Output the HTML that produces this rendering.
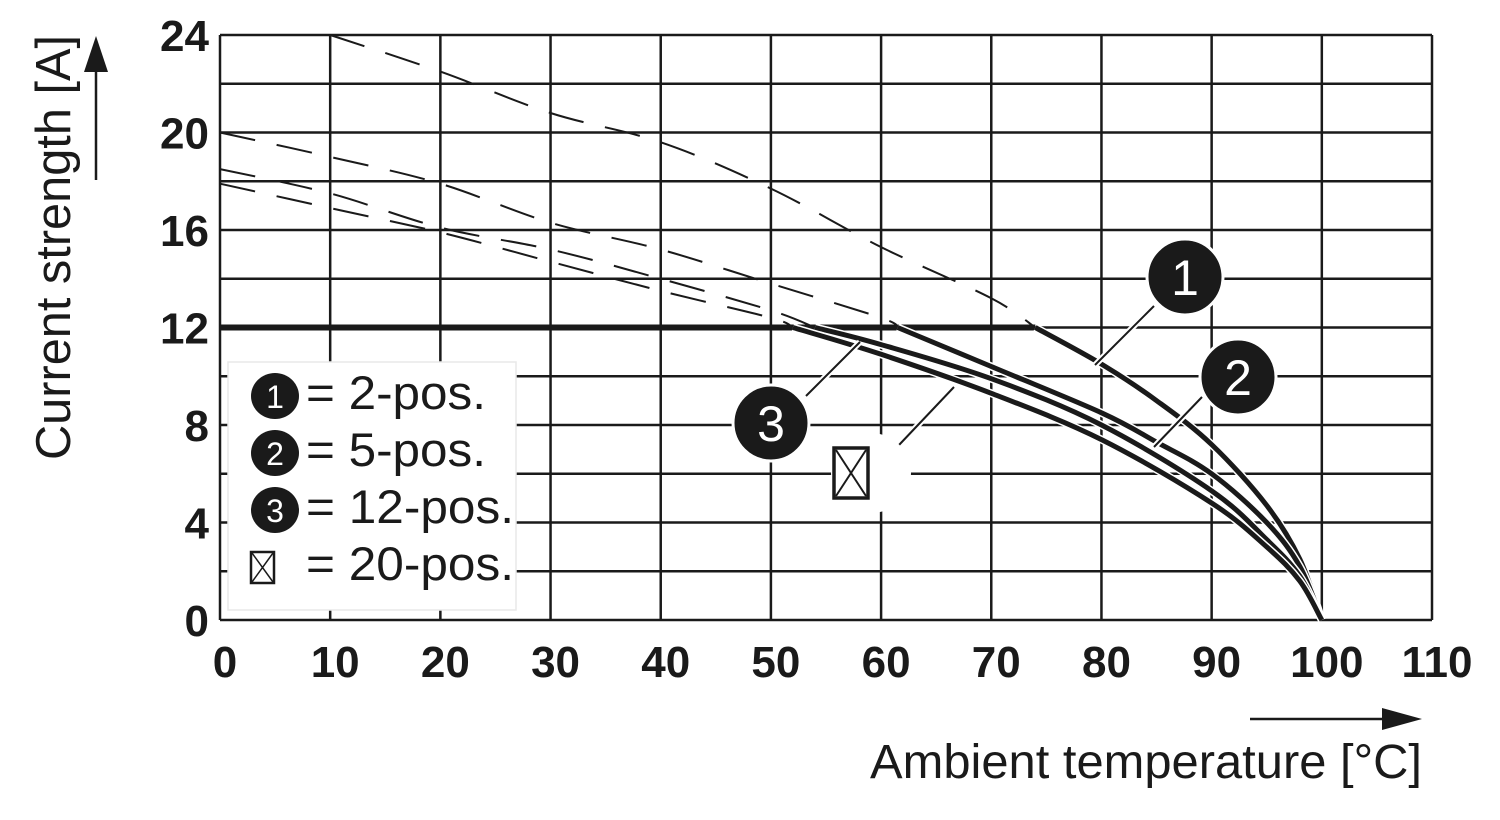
<!DOCTYPE html>
<html><head><meta charset="utf-8">
<style>
html,body{margin:0;padding:0;background:#fff;}
svg{display:block;font-family:"Liberation Sans",Arial,sans-serif;}
</style></head>
<body>
<svg id="chart" width="1500" height="820" viewBox="0 0 1500 820" xmlns="http://www.w3.org/2000/svg">
<g id="grid"></g>
<g id="dashed"></g>
<g id="solid"></g>
<g id="ticks"></g>
<g>
  <text x="70" y="460" transform="rotate(-90 70 460)" font-size="49" fill="#1a1a1a" textLength="425" lengthAdjust="spacingAndGlyphs">Current strength [A]</text>
  <line x1="96" y1="180" x2="96" y2="60" stroke="#1a1a1a" stroke-width="2.5"/>
  <polygon points="84,72 108,72 96,36" fill="#1a1a1a"/>
</g>
<g>
  <text x="1422" y="778" text-anchor="end" font-size="48" fill="#1a1a1a" textLength="552" lengthAdjust="spacingAndGlyphs">Ambient temperature [°C]</text>
  <line x1="1250" y1="719" x2="1390" y2="719" stroke="#1a1a1a" stroke-width="2.5"/>
  <polygon points="1382,708 1382,730 1422,719" fill="#1a1a1a"/>
</g>
<g id="callouts">
  <line x1="1154" y1="306" x2="1095" y2="365" stroke="#fff" stroke-width="6"/>
  <line x1="1154" y1="306" x2="1095" y2="365" stroke="#1a1a1a" stroke-width="2"/>
  <line x1="1202" y1="397" x2="1154" y2="447" stroke="#fff" stroke-width="6"/>
  <line x1="1202" y1="397" x2="1154" y2="447" stroke="#1a1a1a" stroke-width="2"/>
  <line x1="806" y1="396" x2="860" y2="342" stroke="#fff" stroke-width="6"/>
  <line x1="806" y1="396" x2="860" y2="342" stroke="#1a1a1a" stroke-width="2"/>
  <line x1="899" y1="445" x2="954" y2="387" stroke="#fff" stroke-width="6"/>
  <line x1="899" y1="445" x2="954" y2="387" stroke="#1a1a1a" stroke-width="2"/>
  <g><circle cx="1185" cy="277" r="38" fill="#1a1a1a" stroke="#fff" stroke-width="3"/><text x="1185" y="295" text-anchor="middle" font-size="50" fill="#fff">1</text></g>
  <g><circle cx="1238" cy="377" r="38" fill="#1a1a1a" stroke="#fff" stroke-width="3"/><text x="1238" y="395" text-anchor="middle" font-size="50" fill="#fff">2</text></g>
  <g><circle cx="771" cy="423" r="38" fill="#1a1a1a" stroke="#fff" stroke-width="3"/><text x="771" y="441" text-anchor="middle" font-size="50" fill="#fff">3</text></g>
  <g><circle cx="871" cy="473" r="40" fill="#fff"/><rect x="834" y="448" width="34" height="50" fill="#fff" stroke="#1a1a1a" stroke-width="3.5"/><line x1="836" y1="450" x2="866" y2="496" stroke="#1a1a1a" stroke-width="2"/><line x1="866" y1="450" x2="836" y2="496" stroke="#1a1a1a" stroke-width="2"/></g>
</g>
<g>
  <rect x="228" y="362" width="288" height="248" fill="#fff" stroke="#e8e8e8" stroke-width="1.5"/>
  <g><ellipse cx="275" cy="396" rx="24" ry="23" fill="#1a1a1a"/><text x="275" y="408" text-anchor="middle" font-size="32" fill="#fff">1</text><text x="306" y="409" font-size="47" fill="#1a1a1a" textLength="180" lengthAdjust="spacingAndGlyphs">= 2-pos.</text></g>
  <g><ellipse cx="275" cy="453" rx="24" ry="23" fill="#1a1a1a"/><text x="275" y="465" text-anchor="middle" font-size="32" fill="#fff">2</text><text x="306" y="466" font-size="47" fill="#1a1a1a" textLength="180" lengthAdjust="spacingAndGlyphs">= 5-pos.</text></g>
  <g><ellipse cx="275" cy="510" rx="24" ry="23" fill="#1a1a1a"/><text x="275" y="522" text-anchor="middle" font-size="32" fill="#fff">3</text><text x="306" y="523" font-size="47" fill="#1a1a1a" textLength="208" lengthAdjust="spacingAndGlyphs">= 12-pos.</text></g>
  <g><rect x="251" y="552" width="23" height="31" fill="#fff" stroke="#1a1a1a" stroke-width="2.5"/><line x1="252" y1="553" x2="273" y2="582" stroke="#1a1a1a" stroke-width="1.5"/><line x1="273" y1="553" x2="252" y2="582" stroke="#1a1a1a" stroke-width="1.5"/><text x="306" y="580" font-size="47" fill="#1a1a1a" textLength="208" lengthAdjust="spacingAndGlyphs">= 20-pos.</text></g>
</g>
</svg>
<script>
const xTicks = [0,10,20,30,40,50,60,70,80,90,100,110];
const yTicks = [0,4,8,12,16,20,24];
const rated = 12;
// dashed theoretical curves (temperature, current)
const c1T = [10,20,30,40,50,60,70,74];
const c1V = [24,22.5,20.8,19.6,17.7,15.3,13.2,12];
const c2T = [0,10,20,30,40,50,60,61.5];
const c2V = [20,19,17.9,16.3,15.2,13.8,12.4,12];
const c3T = [0,10,20,30,40,50,54];
const c3V = [18.5,17.5,16.1,15.2,14,12.7,12];
const c20T = [0,10,20,30,40,50,52];
const c20V = [17.9,16.9,15.9,14.7,13.5,12.4,12];
// solid derated curves
const s1T = [74,80,85,90,95,98,100];
const s1V = [12,10.5,9.0,7.2,4.7,2.5,0];
const s2T = [61.5,70,80,85,90,95,98,100];
const s2V = [12,10.4,8.5,7.3,6.0,4.0,2.2,0];
const s3T = [54,60,70,80,90,95,98,100];
const s3V = [12,11.3,9.9,8.0,5.3,3.3,1.8,0];
const s20T = [52,60,70,80,90,95,98,100];
const s20V = [12,10.9,9.3,7.4,4.8,3.0,1.6,0];

const X0=220, X1=1432, Y0=620, Y1=35;
const xs = t => X0 + (X1-X0)*t/110;
const ys = v => Y0 - (Y0-Y1)*v/24;
const NS="http://www.w3.org/2000/svg";
function mk(tag, attrs, parent){const e=document.createElementNS(NS,tag);for(const k in attrs)e.setAttribute(k,attrs[k]);parent.appendChild(e);return e;}
const grid=document.getElementById('grid');
for(let v=0; v<=24; v+=2){
  const l=mk('line',{x1:X0,x2:X1,y1:ys(v),y2:ys(v),stroke:'#1a1a1a','stroke-width':2.5},grid);
  
  
}
xTicks.forEach(t=>{
  const l=mk('line',{x1:xs(t),x2:xs(t),y1:Y0,y2:Y1,stroke:'#1a1a1a','stroke-width':2.5},grid);
  
  
});
const ticks=document.getElementById('ticks');
xTicks.forEach(t=>{
  const e=mk('text',{x:xs(t)+5,y:677,'text-anchor':'middle','font-size':44,'font-weight':'bold',fill:'#1a1a1a'},ticks);
  e.textContent=t;
  
  
});
yTicks.forEach(v=>{
  const e=mk('text',{x:209,y:ys(v)+16,'text-anchor':'end','font-size':44,'font-weight':'bold',fill:'#1a1a1a'},ticks);
  e.textContent=v;
  
  
});
function smooth(T,V){
  const P=T.map((t,i)=>[xs(t),ys(V[i])]);
  let d='M'+P[0][0].toFixed(1)+','+P[0][1].toFixed(1);
  for(let i=0;i<P.length-1;i++){
    const p0=P[Math.max(0,i-1)],p1=P[i],p2=P[i+1],p3=P[Math.min(P.length-1,i+2)];
    const a=[p1[0]+(p2[0]-p0[0])/6,p1[1]+(p2[1]-p0[1])/6];
    const b=[p2[0]-(p3[0]-p1[0])/6,p2[1]-(p3[1]-p1[1])/6];
    d+=' C'+a[0].toFixed(1)+','+a[1].toFixed(1)+' '+b[0].toFixed(1)+','+b[1].toFixed(1)+' '+p2[0].toFixed(1)+','+p2[1].toFixed(1);
  }
  return d;
}
const dashed=document.getElementById('dashed');
[[c1T,c1V,'dashed-curve-2pos'],[c2T,c2V,'dashed-curve-5pos'],[c3T,c3V,'dashed-curve-12pos'],[c20T,c20V,'dashed-curve-20pos']].forEach(([T,V,n])=>{
  const p=mk('path',{d:smooth(T,V),fill:'none',stroke:'#1a1a1a','stroke-width':2,'stroke-dasharray':'36,22'},dashed);
  
  
});
const solid=document.getElementById('solid');
const rl=mk('line',{x1:xs(0),x2:xs(c1T[c1T.length-1]),y1:ys(rated),y2:ys(rated),stroke:'#1a1a1a','stroke-width':6},solid);


[[s1T,s1V,'curve-2pos'],[s2T,s2V,'curve-5pos'],[s3T,s3V,'curve-12pos'],[s20T,s20V,'curve-20pos']].forEach(([T,V,n])=>{
  const w=mk('path',{d:smooth(T,V),fill:'none',stroke:'#fff','stroke-width':8,'stroke-linejoin':'round'},solid);
  
  
  const p=mk('path',{d:smooth(T,V),fill:'none',stroke:'#1a1a1a','stroke-width':5,'stroke-linejoin':'round'},solid);
  
  
});
</script>
</body></html>
